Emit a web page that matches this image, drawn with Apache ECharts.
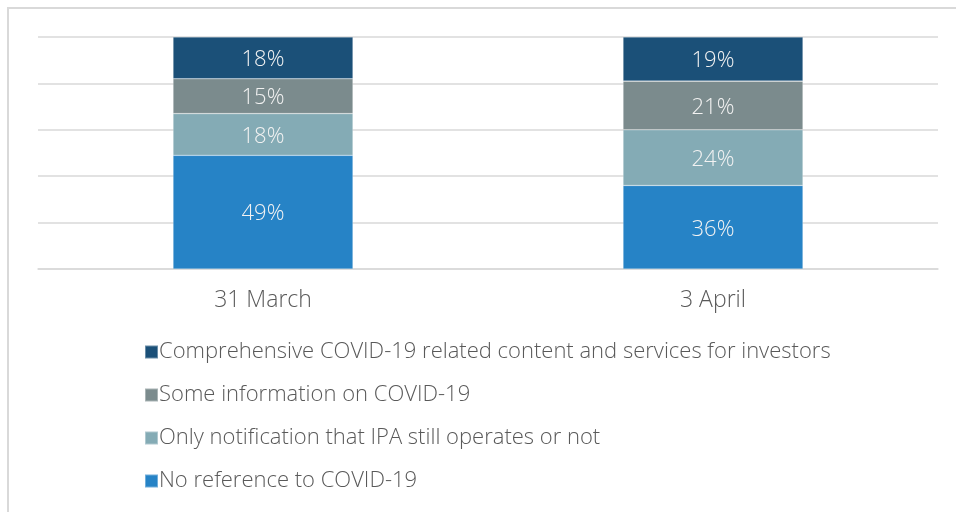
<!DOCTYPE html>
<html><head><meta charset="utf-8">
<script src="https://cdn.jsdelivr.net/npm/echarts@6/dist/echarts.min.js"></script>
<style>html,body{margin:0;padding:0;background:#fff}#c{width:956px;height:512px}</style>
</head><body><div id="c"></div>
<script>
var categories = ['31 March', '3 April'];
var seriesNames = [
  'Comprehensive COVID-19 related content and services for investors',
  'Some information on COVID-19',
  'Only notification that IPA still operates or not',
  'No reference to COVID-19'
];
var comprehensive = [18, 19];
var someInfo = [15, 21];
var onlyNotification = [18, 24];
var noReference = [49, 36];
var yTicks = [0, 20, 40, 60, 80, 100];

var colors = {
  comprehensive: '#1B5078',
  someInfo: '#7B8B8D',
  onlyNotification: '#84ABB5',
  noReference: '#2683C6'
};
var FONT = '"Open Sans"';

function mk(name, data, color) {
  return {
    name: name, type: 'bar', stack: 'total', data: data, barWidth: '40%',
    itemStyle: { color: color, borderColor: 'rgba(255,255,255,0.35)', borderWidth: 0.6 },
    label: { show: true, position: 'inside', formatter: '{c}%', color: '#F2F2F2', offset: [0, 2],
             fontFamily: FONT, fontWeight: 300, fontSize: 22 },
    emphasis: { disabled: true }
  };
}

var chart = echarts.init(document.getElementById('c'), null, { renderer: 'canvas' });
chart.setOption({
  animation: false,
  backgroundColor: '#fff',
  graphic: [{
    type: 'polyline', shape: { points: [[8, 512], [8, 8], [956, 8]] },
    style: { stroke: '#D9D9D9', lineWidth: 2, fill: null }
  }],
  grid: { left: 38, right: 18, top: 37, bottom: 243, containLabel: false },
  xAxis: {
    type: 'category', data: categories,
    axisLine: { lineStyle: { color: '#D9D9D9', width: 1.5 } },
    axisTick: { show: false },
    axisLabel: { color: '#595959', fontFamily: FONT, fontWeight: 300, fontSize: 23, margin: 20 }
  },
  yAxis: {
    type: 'value', min: yTicks[0], max: yTicks[yTicks.length - 1], interval: yTicks[1] - yTicks[0],
    axisLabel: { show: false }, axisLine: { show: false }, axisTick: { show: false },
    splitLine: { lineStyle: { color: '#D9D9D9', width: 1.5 } }
  },
  legend: {
    orient: 'vertical', left: 139, top: 336, height: 172,
    data: seriesNames.slice(),
    itemWidth: 13, itemHeight: 13, itemGap: 21,
    icon: 'rect',
    textStyle: { color: '#595959', fontFamily: FONT, fontWeight: 300, fontSize: 22, lineHeight: 22, padding: [0, 0, 0, -4] },
    selectedMode: false
  },
  series: [
    mk(seriesNames[3], noReference, colors.noReference),
    mk(seriesNames[2], onlyNotification, colors.onlyNotification),
    mk(seriesNames[1], someInfo, colors.someInfo),
    mk(seriesNames[0], comprehensive, colors.comprehensive)
  ]
});
</script></body></html>
